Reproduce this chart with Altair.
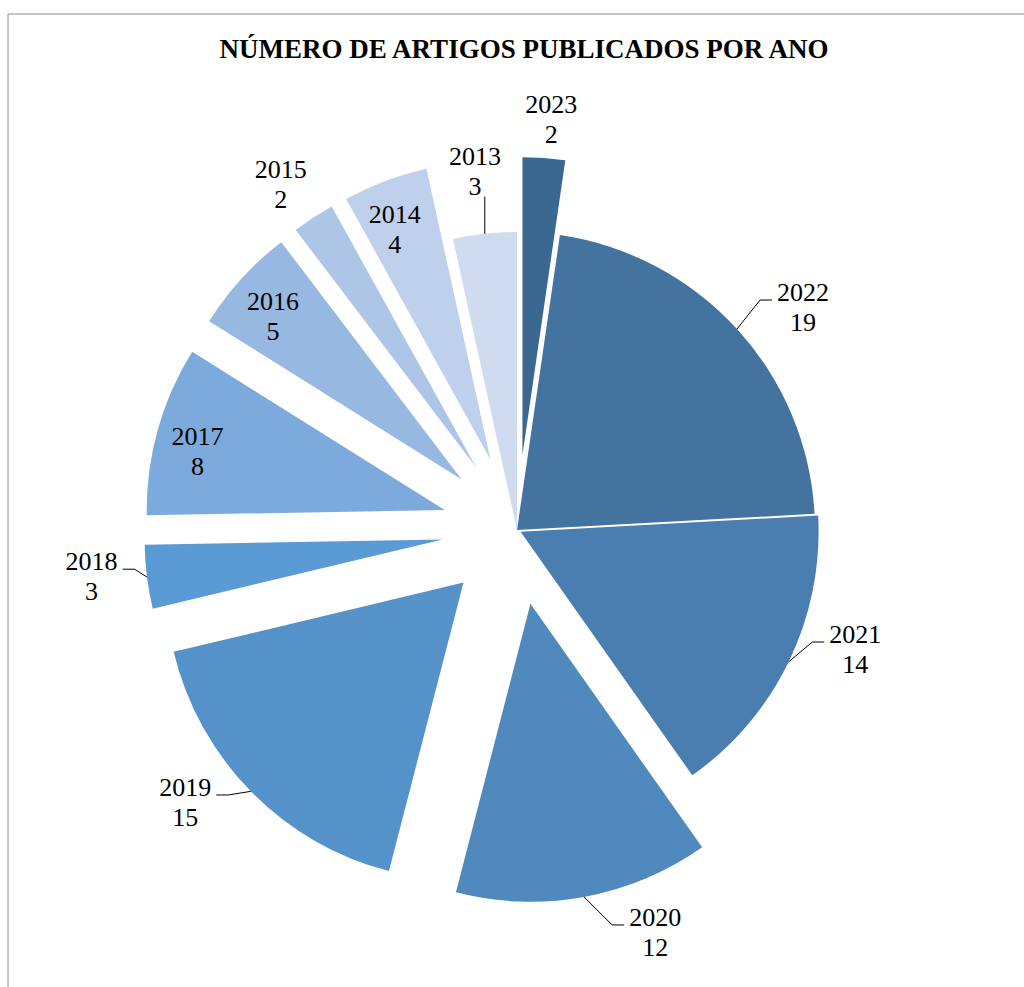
import math
import altair as alt
import pandas as pd

# ---- data ----
years = ["2023", "2022", "2021", "2020", "2019", "2018", "2017", "2016", "2015", "2014", "2013"]
counts = [2, 19, 14, 12, 15, 3, 8, 5, 2, 4, 3]
title_text = "NÚMERO DE ARTIGOS PUBLICADOS POR ANO"

# ---- styles ----
colors = ["#3A6891", "#44739F", "#4A7EB0", "#4F89BD", "#5592C9", "#5B9BD5",
          "#7DAADC", "#97B8E0", "#ADC5E6", "#BED0EB", "#CFDCEF"]
explode = [75, 0, 4, 75, 75, 75, 75, 75, 75, 75, 0]          # px offset of each slice
label_r = [336, 362, 355, 352, 355, 353, 254, 249, 343, 249, 360]   # label distance
label_shift = [0.8, 4.6, -6.4, -10.4, 6.1, 1.1, -2.3, -1.7, -1.6, -1.9, -0.5]  # deg
leader = [0, 1, 1, 1, 1, 1, 0, 0, 0, 0, 2]
R = 298
W, H = 1024, 987
CX, CY = 517, 530
FONT = "Liberation Serif"

df = pd.DataFrame({
    "year": years, "count": counts, "idx": list(range(len(years))),
    "explode": explode, "lr": label_r, "ls": label_shift, "leader": leader,
})
total = sum(counts)

xs = alt.Scale(domain=[-CX, W - CX], range=[0, W])
ys = alt.Scale(domain=[CY - H, CY], range=[H, 0])

base = (
    alt.Chart(df)
    .transform_window(cum="sum(count)", sort=[alt.SortField("idx")], frame=[None, 0])
    .transform_calculate(c0="datum.cum - datum.count")
    .transform_calculate(mid=f"(datum.c0 + datum.cum) / 2 / {total} * 2 * PI")
    .transform_calculate(cx="datum.explode * sin(datum.mid)")
    .transform_calculate(cy="datum.explode * cos(datum.mid)")
    .transform_calculate(la="datum.mid + datum.ls * PI / 180")
    .transform_calculate(lx="datum.cx + datum.lr * sin(datum.la)")
    .transform_calculate(ly="datum.cy + datum.lr * cos(datum.la)")
    .transform_calculate(px=f"datum.cx + {R} * sin(datum.mid)")
    .transform_calculate(py=f"datum.cy + {R} * cos(datum.mid)")
    .transform_calculate(side="sin(datum.mid) >= 0 ? 1 : -1")
    .transform_calculate(ex="datum.leader == 2 ? datum.px : datum.lx - datum.side * 31")
    .transform_calculate(ey="datum.leader == 2 ? datum.ly - 24 : datum.ly + 8")
    .transform_calculate(bx="datum.leader == 2 ? datum.px : datum.ex - datum.side * 12")
    .transform_calculate(by="datum.ey")
)

arcs = base.mark_arc(radius=R).encode(
    x=alt.X("cx:Q", scale=xs, axis=None),
    y=alt.Y("cy:Q", scale=ys, axis=None),
    theta=alt.Theta("c0:Q", scale=alt.Scale(domain=[0, total], range=[0, 2 * math.pi])),
    theta2="cum:Q",
    color=alt.Color("year:N", scale=alt.Scale(domain=years, range=colors), legend=None),
)

lead = base.transform_filter("datum.leader > 0")
seg1 = lead.mark_rule(color="black", strokeWidth=1).encode(
    x=alt.X("px:Q", scale=xs, axis=None), y=alt.Y("py:Q", scale=ys, axis=None),
    x2="bx:Q", y2="by:Q",
)
seg2 = lead.mark_rule(color="black", strokeWidth=1).encode(
    x=alt.X("bx:Q", scale=xs, axis=None), y=alt.Y("by:Q", scale=ys, axis=None),
    x2="ex:Q", y2="ey:Q",
)

lab_year = base.mark_text(font=FONT, fontSize=26, color="black", dy=-15, baseline="middle").encode(
    x=alt.X("lx:Q", scale=xs, axis=None), y=alt.Y("ly:Q", scale=ys, axis=None), text="year:N",
)
lab_count = base.mark_text(font=FONT, fontSize=26, color="black", dy=15, baseline="middle").encode(
    x=alt.X("lx:Q", scale=xs, axis=None), y=alt.Y("ly:Q", scale=ys, axis=None), text="count:Q",
)

title = alt.Chart(pd.DataFrame({"t": [title_text]})).mark_text(
    font=FONT, fontSize=27, fontWeight="bold", color="black", baseline="middle"
).encode(x=alt.value(524), y=alt.value(50), text="t:N")

border = alt.Chart(pd.DataFrame({"t": [0]})).mark_rect(
    fillOpacity=0, stroke="#8c8c8c", strokeWidth=1
).encode(x=alt.value(8), y=alt.value(14), x2=alt.value(1300), y2=alt.value(1300))

chart = (
    alt.layer(border, arcs, seg1, seg2, lab_year, lab_count, title)
    .properties(width=W, height=H, padding=0, autosize=alt.AutoSizeParams(type="none"), background="white")
    .configure_view(stroke=None)
)

chart.save("out.html", embed_options={"renderer": "svg", "actions": False})
